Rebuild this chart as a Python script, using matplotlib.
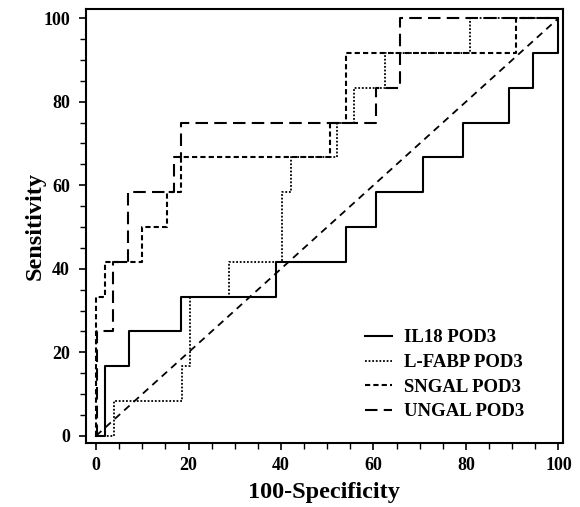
import matplotlib.pyplot as plt
from matplotlib.ticker import MultipleLocator

# ROC corner points: (100-specificity, sensitivity), drawn as steps
il18_x = [0, 2.0, 7.2, 18.4, 39.0, 54.0, 60.6, 70.7, 79.4, 89.4, 94.4, 100]
il18_y = [0, 16.7, 25.0, 33.3, 41.7, 50.0, 58.3, 66.7, 75.0, 83.3, 91.7, 100]

lfabp_x = [0, 3.8, 18.6, 20.4, 28.7, 40.2, 42.1, 52.1, 55.8, 62.4, 80.8, 100]
lfabp_y = [0, 8.3, 16.7, 33.3, 41.7, 58.3, 66.7, 75.0, 83.3, 91.7, 100, 100]

sngal_x = [0, 0, 2.0, 9.9, 15.3, 18.4, 50.6, 54.0, 90.8, 100]
sngal_y = [0, 33.3, 41.7, 50.0, 58.3, 66.7, 75.0, 91.7, 100, 100]

ungal_x = [0, 0.3, 3.7, 6.9, 16.8, 18.4, 60.6, 65.8, 100]
ungal_y = [0, 25.0, 41.7, 58.3, 66.7, 75.0, 83.3, 100, 100]

ref_line = [0, 100]

plt.rcParams['font.family'] = 'Liberation Serif'
plt.rcParams['font.weight'] = 'bold'

fig = plt.figure(figsize=(5.8, 5.07), dpi=100)
ax = fig.add_axes([0.1483, 0.1262, 0.8217, 0.856])

ax.plot(il18_x, il18_y, color='black', lw=1.5, drawstyle='steps-post',
        label='IL18 POD3')
ax.plot(lfabp_x, lfabp_y, color='black', lw=1.3, linestyle=(0, (1, 1)),
        drawstyle='steps-post', label='L-FABP POD3')
ax.plot(sngal_x, sngal_y, color='black', lw=1.5, linestyle=(0, (2.5, 1.5)),
        drawstyle='steps-post', label='SNGAL POD3')
ax.plot(ungal_x, ungal_y, color='black', lw=1.5, linestyle=(0, (6, 3)),
        drawstyle='steps-post', label='UNGAL POD3')
ax.plot(ref_line, ref_line, color='black', lw=1.3, linestyle=(0, (4, 3)))

ax.set_xlim(-2.17, 100.9)
ax.set_ylim(-1.72, 102.2)

ax.xaxis.set_major_locator(MultipleLocator(20))
ax.xaxis.set_minor_locator(MultipleLocator(5))
ax.yaxis.set_major_locator(MultipleLocator(20))
ax.yaxis.set_minor_locator(MultipleLocator(5))
ax.tick_params(which='major', direction='out', length=5, width=1.2,
               labelsize=13, pad=5)
ax.tick_params(which='minor', direction='out', length=4, width=1.0)
ax.tick_params(axis='y', which='major', pad=6.5)
for s in ax.spines.values():
    s.set_linewidth(1.5)

ax.set_xlabel('100-Specificity', fontsize=17.5, fontweight='bold')
ax.set_ylabel('Sensitivity', fontsize=17.5, fontweight='bold')
ax.xaxis.set_label_coords(0.5, -0.09)
ax.yaxis.set_label_coords(-0.085, 0.5)

ax.legend(loc='lower right', bbox_to_anchor=(0.935, 0.035), frameon=False,
          fontsize=13.5, handlelength=1.4, handletextpad=0.65,
          labelspacing=0.4, borderaxespad=0)

fig.savefig('out.png', dpi=100)
